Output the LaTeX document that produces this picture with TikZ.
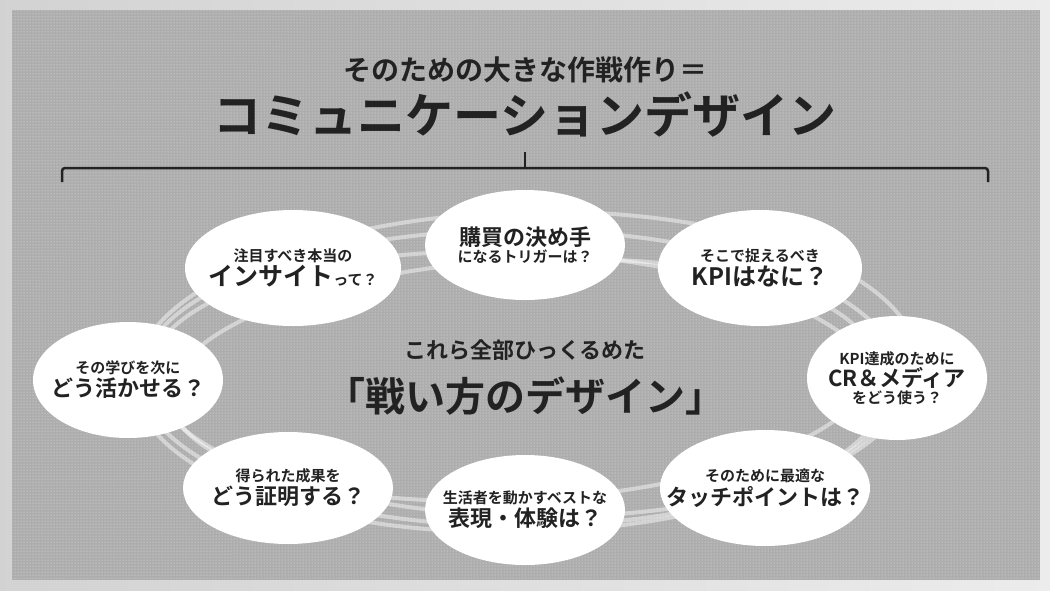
\documentclass[tikz,border=0pt]{standalone}
\usepackage{fontspec}
\setmainfont{Noto Sans CJK JP}[BoldFont={Noto Sans CJK JP Bold}]
\usetikzlibrary{patterns}
\definecolor{panel}{HTML}{ADADAD}
\definecolor{ink}{HTML}{222222}
\begin{document}
\begin{tikzpicture}[x=1pt,y=-1pt,
  bub/.style={fill=white,draw=none},
  txt/.style={text=ink,font=\bfseries,align=center,inner sep=0pt},
  ring/.style={draw=white,opacity=0.45,line width=4pt}]
\useasboundingbox (0,0) rectangle (1050,590);
\shade[left color=gray!35,right color=gray!15] (0,0) rectangle (1050,590);
\fill[panel] (12,10) rectangle (1040,580);
\fill[pattern=dots,pattern color=white!70!panel] (12,10) rectangle (1040,580);
% rings
\draw[ring] (520,378) ellipse [x radius=380,y radius=148];
\draw[ring] (516,384) ellipse [x radius=366,y radius=132,rotate=-2];
\draw[ring] (526,372) ellipse [x radius=392,y radius=160,rotate=1.5];
\draw[ring] (522,380) ellipse [x radius=352,y radius=120,rotate=3];
% titles
\node[txt,font=\bfseries\fontsize{28}{32}\selectfont] (t1) at (525,70) {そのための大きな作戦作り＝};
\node[txt,font=\bfseries\fontsize{48}{54}\selectfont] (t2) at (525,115) {コミュニケーションデザイン};
\coordinate (bl) at (62,182); \coordinate (br) at (988,182);
\draw[ink,line width=2.5pt,rounded corners=3pt] (bl) -- (62,168) -- (988,168) -- (br);
\draw[ink,line width=2.5pt] (525,168) -- (525,152);
% bubbles
\path[bub] (293,268) ellipse [x radius=108,y radius=58];
\path[bub] (525,245) ellipse [x radius=100,y radius=55];
\path[bub] (760,268) ellipse [x radius=102,y radius=58];
\path[bub] (128,380) ellipse [x radius=95,y radius=58];
\path[bub] (897,378) ellipse [x radius=90,y radius=62];
\path[bub] (288,488) ellipse [x radius=105,y radius=56];
\path[bub] (525,510) ellipse [x radius=100,y radius=55];
\path[bub] (765,488) ellipse [x radius=105,y radius=58];
\node[txt] (b1) at (293,268) {{\fontsize{15}{20}\selectfont 注目すべき本当の}\\[2pt]{\fontsize{25}{28}\selectfont インサイト}{\fontsize{15}{20}\selectfont って？}};
\node[txt] (b2) at (525,245) {{\fontsize{22}{26}\selectfont 購買の決め手}\\[1pt]{\fontsize{15}{20}\selectfont になるトリガーは？}};
\node[txt] (b3) at (760,268) {{\fontsize{15}{20}\selectfont そこで捉えるべき}\\[2pt]{\fontsize{24}{28}\selectfont KPIはなに？}};
\node[txt] (b4) at (128,380) {{\fontsize{15}{20}\selectfont その学びを次に}\\[2pt]{\fontsize{22}{26}\selectfont どう活かせる？}};
\node[txt] (b5) at (897,378) {{\fontsize{15}{20}\selectfont KPI達成のために}\\[1pt]{\fontsize{22}{26}\selectfont CR＆メディア}\\[1pt]{\fontsize{15}{20}\selectfont をどう使う？}};
\node[txt] (b6) at (288,488) {{\fontsize{15}{20}\selectfont 得られた成果を}\\[2pt]{\fontsize{22}{26}\selectfont どう証明する？}};
\node[txt] (b7) at (525,510) {{\fontsize{15}{20}\selectfont 生活者を動かすベストな}\\[2pt]{\fontsize{22}{26}\selectfont 表現・体験は？}};
\node[txt] (b8) at (765,488) {{\fontsize{15}{20}\selectfont そのために最適な}\\[2pt]{\fontsize{22}{26}\selectfont タッチポイントは？}};
% center
\node[txt,font=\bfseries\fontsize{22}{26}\selectfont] (c1) at (525,350) {これら全部ひっくるめた};
\node[txt,font=\bfseries\fontsize{40}{46}\selectfont] (c2) at (525,396) {「戦い方のデザイン」};
\end{tikzpicture}
\end{document}
